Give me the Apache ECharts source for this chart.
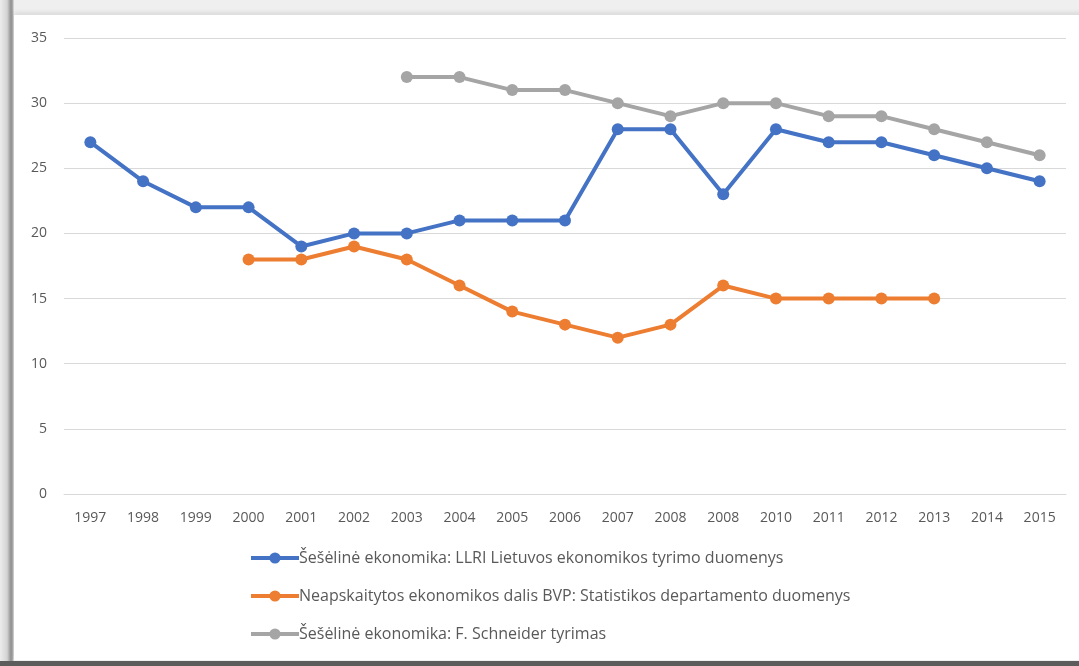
<!DOCTYPE html>
<html>
<head>
<meta charset="utf-8">
<script src="https://cdn.jsdelivr.net/npm/echarts@6/dist/echarts.min.js"></script>
<style>
  html, body { margin: 0; padding: 0; width: 1079px; height: 666px; overflow: hidden; background: #5c5c5c; }
  #bg { position: absolute; left: 0; top: 0; width: 1079px; height: 661px;
        background: linear-gradient(to right, #ececec 0px, #d4d4d4 7px, #8f8f8f 11px, #b0b0b0 13px, #efefef 14px); }
  #panel { position: absolute; left: 14px; top: 15px; width: 1080px; height: 645px; background: #fff;
           box-shadow: 0 -3px 4px rgba(0,0,0,0.08); }
  #main { position: absolute; left: 0; top: 0; width: 1079px; height: 666px; }
</style>
</head>
<body>
<div id="bg"></div>
<div id="panel"></div>
<div id="main"></div>
<script>
// ось X: metai (antrasis 2008 paliktas kaip originale)
var years = ['1997', '1998', '1999', '2000', '2001', '2002', '2003', '2004', '2005', '2006',
             '2007', '2008', '2008', '2010', '2011', '2012', '2013', '2014', '2015'];
var llri = [27, 24, 22, 22, 19, 20, 20, 21, 21, 21, 28, 28, 23, 28, 27, 27, 26, 25, 24];
var statDept = [null, null, null, 18, 18, 19, 18, 16, 14, 13, 12, 13, 16, 15, 15, 15, 15, null, null];
var schneider = [null, null, null, null, null, null, 32, 32, 31, 31, 30, 29, 30, 30, 29, 29, 28, 27, 26];
var yTicks = [0, 5, 10, 15, 20, 25, 30, 35];

var names = [
    'Šešėlinė ekonomika: LLRI Lietuvos ekonomikos tyrimo duomenys',
    'Neapskaitytos ekonomikos dalis BVP: Statistikos departamento duomenys',
    'Šešėlinė ekonomika: F. Schneider tyrimas'
];
var colors = ['#4472C4', '#ED7D31', '#A5A5A5'];

window.onload = function () {
    var myChart = echarts.init(document.getElementById('main'));

    function line(name, data, color) {
        return {
            name: name,
            type: 'line',
            data: data,
            symbol: 'circle',
            symbolSize: 12,
            connectNulls: false,
            lineStyle: { width: 4, color: color },
            itemStyle: { color: color },
            emphasis: { disabled: true }
        };
    }

    var option = {
        animation: false,
        color: colors,
        textStyle: { fontFamily: 'Open Sans, sans-serif' },
        grid: { left: 64, right: 13, top: 38, bottom: 172, containLabel: false },
        xAxis: {
            type: 'category',
            data: years,
            boundaryGap: true,
            axisLine: { lineStyle: { color: '#d9d9d9', width: 1 } },
            axisTick: { show: false },
            axisLabel: { color: '#595959', fontSize: 14, margin: 17, interval: 0 }
        },
        yAxis: {
            type: 'value',
            min: yTicks[0],
            max: yTicks[yTicks.length - 1],
            interval: 5,
            axisLine: { show: false },
            axisTick: { show: false },
            axisLabel: { color: '#595959', fontSize: 14, margin: 17 },
            splitLine: { lineStyle: { color: '#d9d9d9', width: 1 } }
        },
        legend: {
            orient: 'vertical',
            left: 244,
            top: 544,
            itemGap: 20,
            itemWidth: 48,
            itemHeight: 14,
            lineStyle: { width: 4 },
            data: names,
            textStyle: { color: '#595959', fontSize: 16, lineHeight: 18, padding: [0, 0, 0, -5] },
            selectedMode: false
        },
        series: [
            line(names[0], llri, colors[0]),
            line(names[1], statDept, colors[1]),
            line(names[2], schneider, colors[2])
        ]
    };
    myChart.setOption(option);
    window.addEventListener('resize', function () {
        myChart.resize();
    });
};
</script>
</body>
</html>
